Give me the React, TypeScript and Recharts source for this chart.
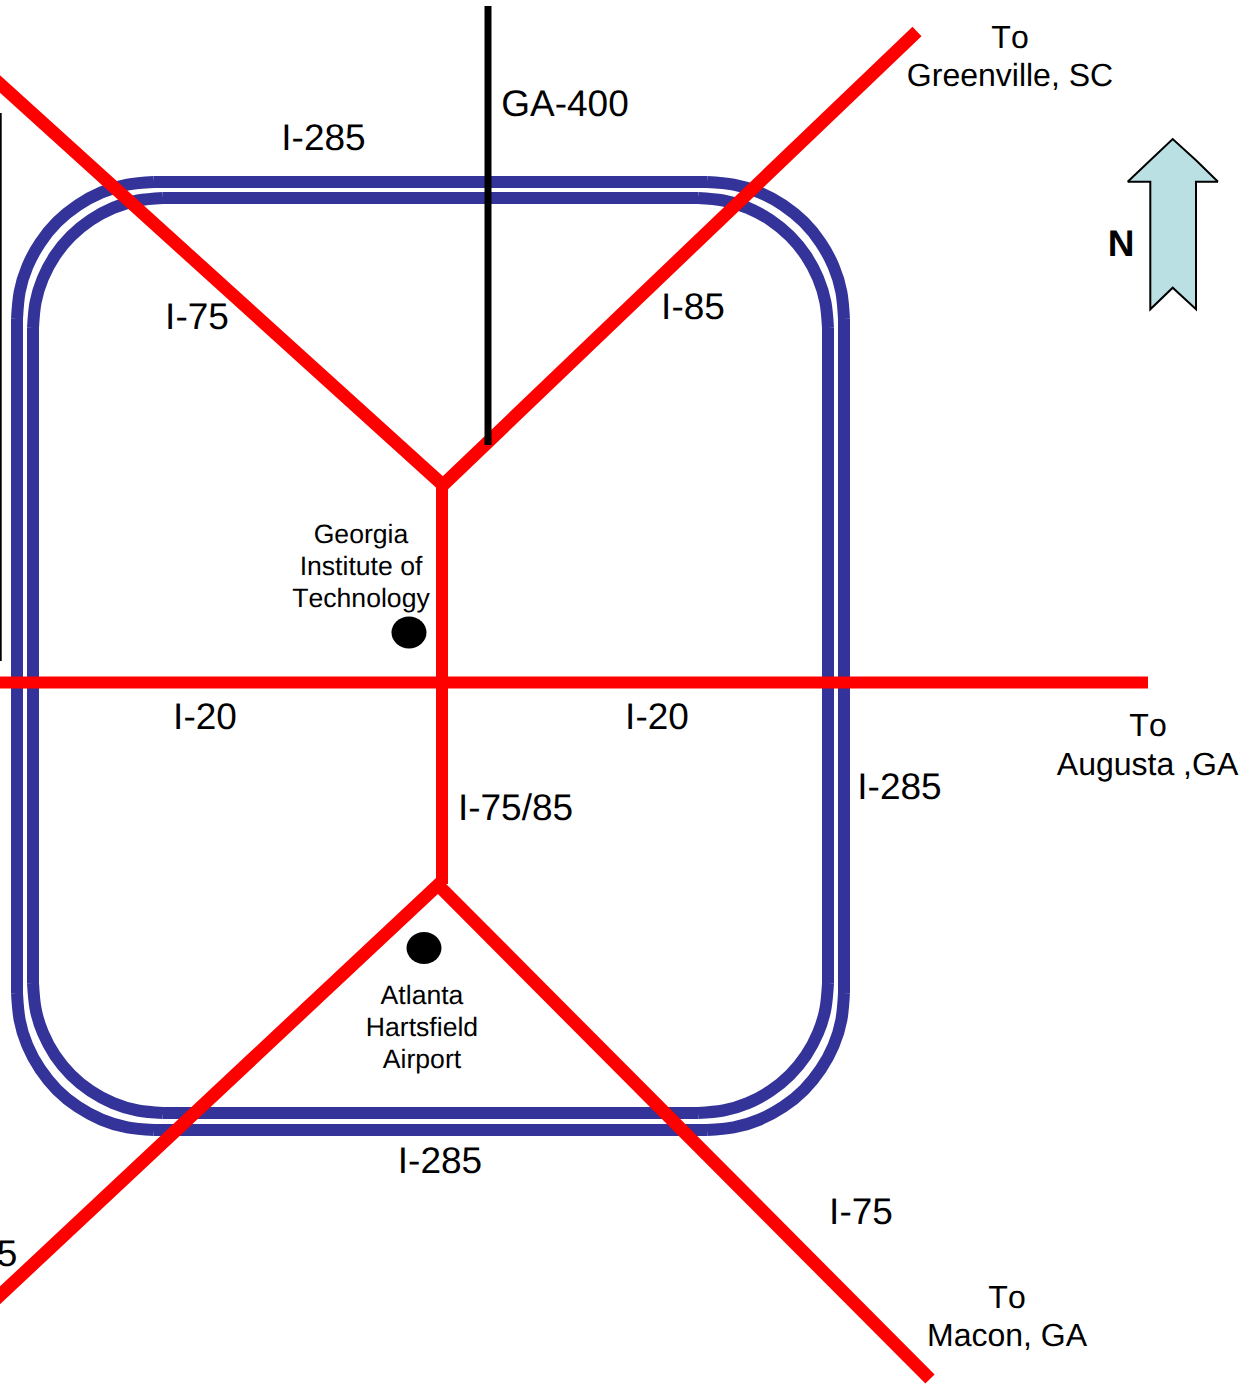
import { Area, ComposedChart, Line, Scatter, XAxis, YAxis } from "recharts"

const FONT = "Liberation Sans, Arial, sans-serif"
const BLUE = "#333399"
const RED = "#FF0000"

const outerRingX = [
  17, 19.6, 27.4, 40.2, 57.1, 77.8, 101.5, 127.3, 154,
  707, 733.7, 759.5, 783.2, 803.9, 820.8, 833.6, 841.4, 844,
  844, 841.4, 833.6, 820.8, 803.9, 783.2, 759.5, 733.7, 707,
  154, 127.3, 101.5, 77.8, 57.1, 40.2, 27.4, 19.6, 17, 17,
]
const outerRingY = [
  319, 292.3, 266.5, 242.8, 222.1, 205.2, 192.4, 184.6, 182,
  182, 184.6, 192.4, 205.2, 222.1, 242.8, 266.5, 292.3, 319,
  993, 1019.7, 1045.5, 1069.2, 1089.9, 1106.8, 1119.6, 1127.4, 1130,
  1130, 1127.4, 1119.6, 1106.8, 1089.9, 1069.2, 1045.5, 1019.7, 993, 319,
]
const innerRingX = [
  33, 35.5, 42.9, 55, 71.1, 90.7, 113.2, 137.7, 163,
  698, 723.3, 747.8, 770.3, 789.9, 806, 818.1, 825.5, 828,
  828, 825.5, 818.1, 806, 789.9, 770.3, 747.8, 723.3, 698,
  163, 137.7, 113.2, 90.7, 71.1, 55, 42.9, 35.5, 33, 33,
]
const innerRingY = [
  328, 302.7, 278.2, 255.7, 236.1, 220, 207.9, 200.5, 198,
  198, 200.5, 207.9, 220, 236.1, 255.7, 278.2, 302.7, 328,
  983, 1008.3, 1032.8, 1055.3, 1074.9, 1091, 1103.1, 1110.5, 1113,
  1113, 1110.5, 1103.1, 1091, 1074.9, 1055.3, 1032.8, 1008.3, 983, 328,
]

// interstates
const northForkX = [-20, 443, 917]
const northForkY = [66, 485, 31.5]
const stemX = [442, 442]
const stemY = [485, 884]
const southForkX = [-20, 438, 930]
const southForkY = [1314, 885, 1379]
const i20X = [-20, 1148]
const i20Y = [682.5, 682.5]

const ga400X = [488, 488]
const ga400Y = [6, 445]
const edgeLineX = [0, 0]
const edgeLineY = [113, 661]

// north arrow, upper and lower outline
const arrowX = [1127.7, 1150.3, 1150.3, 1172.7, 1196, 1196, 1218]
const arrowTop = [181.7, 160.3, 160.3, 139, 160.3, 160.3, 181.7]
const arrowBottom = [181.7, 181.7, 309.3, 287.7, 309.3, 181.7, 181.7]

const placeX = [409, 424]
const placeY = [632.5, 948]

const bigLabels = ["I-285", "GA-400", "I-75", "I-85", "I-20", "I-20", "I-285", "I-75/85", "I-285", "I-75", "I-85"]
const bigLabelX = [323.5, 565, 197, 693, 205, 657, 899.5, 515.5, 440, 861, -14.5]
const bigLabelY = [150, 116, 329, 319, 729, 729, 799, 820, 1173, 1224, 1266]

const cityLabels = ["To", "Greenville, SC", "To", "Augusta ,GA", "To", "Macon, GA"]
const cityLabelX = [1010, 1010, 1148, 1147.5, 1007, 1007]
const cityLabelY = [48, 86, 736, 775, 1308, 1346]

const placeLabels = ["Georgia", "Institute of", "Technology", "Atlanta", "Hartsfield", "Airport"]
const placeLabelX = [361, 361, 361, 422, 422, 422]
const placeLabelY = [543, 575, 607, 1004, 1036, 1068]

const northLabel = ["N"]
const northLabelX = [1121]
const northLabelY = [256]

const toRows = (xs: number[], ys: number[]) => xs.map((x, i) => ({ x, y: ys[i] }))
const toLabels = (texts: string[], xs: number[], ys: number[]) =>
  texts.map((text, i) => ({ text, x: xs[i], y: ys[i] }))

const arrowRows = arrowX.map((x, i) => ({ x, range: [arrowTop[i], arrowBottom[i]] }))

// each ring is four bends (smoothed) and four straight runs
const ringParts = (name: string, xs: number[], ys: number[]) => {
  const rows = toRows(xs, ys)
  const bends = [0, 9, 18, 27].map((start) => ({
    name: `${name}-bend-${start}`,
    rows: rows.slice(start, start + 9),
    curve: "natural",
    color: BLUE,
    width: 12,
  }))
  const runs = [8, 17, 26, 35].map((start) => ({
    name: `${name}-run-${start}`,
    rows: rows.slice(start, start + 2),
    curve: "linear",
    color: BLUE,
    width: 12,
  }))
  return [...bends, ...runs]
}

const roads = [
  ...ringParts("outer", outerRingX, outerRingY),
  ...ringParts("inner", innerRingX, innerRingY),
  { name: "north", rows: toRows(northForkX, northForkY), curve: "linear", color: RED, width: 13 },
  { name: "stem", rows: toRows(stemX, stemY), curve: "linear", color: RED, width: 12 },
  { name: "south", rows: toRows(southForkX, southForkY), curve: "linear", color: RED, width: 13 },
  { name: "i20", rows: toRows(i20X, i20Y), curve: "linear", color: RED, width: 12 },
  { name: "ga400", rows: toRows(ga400X, ga400Y), curve: "linear", color: "#000000", width: 7 },
  { name: "edge", rows: toRows(edgeLineX, edgeLineY), curve: "linear", color: "#000000", width: 3.4 },
]

const textShape = (size: number, weight: string) => (props: any) => (
  <text
    x={props.cx}
    y={props.cy}
    textAnchor="middle"
    fontFamily={FONT}
    fontSize={size}
    fontWeight={weight}
    fill="#000000"
    style={{ fontKerning: "none", textRendering: "geometricPrecision" }}
  >
    {props.payload.text}
  </text>
)

const PlaceDot = (props: any) => <ellipse cx={props.cx} cy={props.cy} rx={17.5} ry={16} fill="#000000" />

export default function App() {
  return (
    <div style={{ position: "absolute", left: -60, top: 0, width: 1308, height: 1384 }}>
      <ComposedChart width={1308} height={1384} margin={{ top: 0, right: 0, bottom: 0, left: 0 }}>
        <XAxis dataKey="x" type="number" domain={[-60, 1248]} hide />
        <YAxis dataKey="y" type="number" domain={[0, 1384]} reversed hide />
        <Area
          data={arrowRows}
          dataKey="range"
          type="linear"
          fill="#BBE0E3"
          fillOpacity={1}
          stroke="#000000"
          strokeWidth={2}
          dot={false}
          activeDot={false}
          isAnimationActive={false}
        />
        {roads.map((road) => (
          <Line
            key={road.name}
            data={road.rows}
            dataKey="y"
            type={road.curve as any}
            stroke={road.color}
            strokeWidth={road.width}
            strokeLinejoin="miter"
            dot={false}
            activeDot={false}
            isAnimationActive={false}
          />
        ))}
        <Scatter data={toRows(placeX, placeY)} shape={PlaceDot} isAnimationActive={false} />
        <Scatter
          data={toLabels(bigLabels, bigLabelX, bigLabelY)}
          shape={textShape(37, "normal")}
          isAnimationActive={false}
        />
        <Scatter
          data={toLabels(cityLabels, cityLabelX, cityLabelY)}
          shape={textShape(32, "normal")}
          isAnimationActive={false}
        />
        <Scatter
          data={toLabels(placeLabels, placeLabelX, placeLabelY)}
          shape={textShape(26.6, "normal")}
          isAnimationActive={false}
        />
        <Scatter
          data={toLabels(northLabel, northLabelX, northLabelY)}
          shape={textShape(37, "bold")}
          isAnimationActive={false}
        />
      </ComposedChart>
    </div>
  )
}
